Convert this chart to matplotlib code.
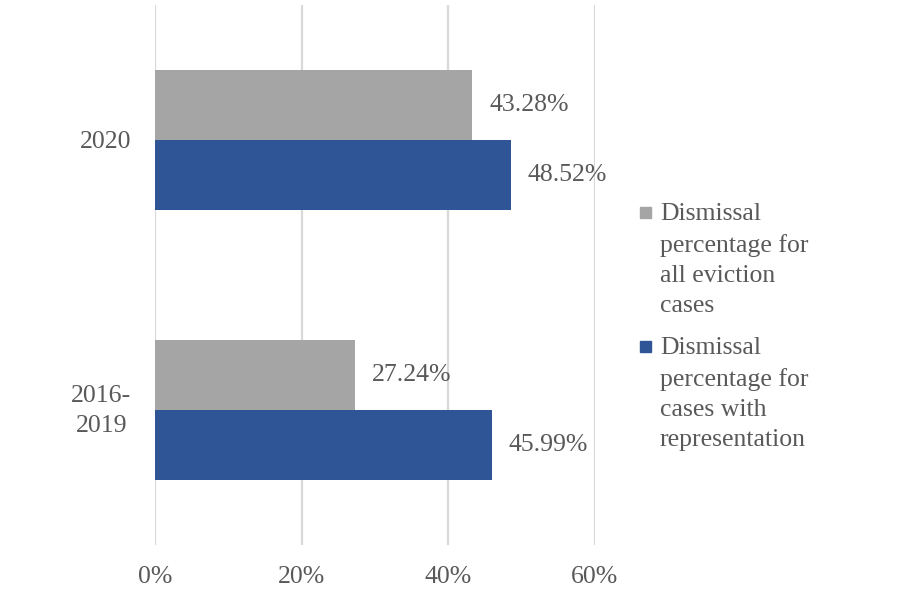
import matplotlib
matplotlib.use("Agg")
import matplotlib.pyplot as plt
import matplotlib.transforms as mtransforms
from matplotlib.patches import Rectangle
import numpy as np

categories = ["2016-\n2019", "2020"]
all_cases = [27.24, 43.28]
with_rep = [45.99, 48.52]
series_labels = ["Dismissal\npercentage for\nall eviction\ncases",
                 "Dismissal\npercentage for\ncases with\nrepresentation"]
colors = ["#A5A5A5", "#2F5597"]
xticks = [0, 20, 40, 60]

plt.rcParams['font.family'] = ['Liberation Serif', 'DejaVu Serif']
txt_color = "#595959"
fs = 18.5

fig = plt.figure(figsize=(9.04, 5.99), dpi=100)
ax = fig.add_axes([155/904, 1-545/599, 440/904, 540/599])

y = np.arange(len(categories))
h = 0.26
b1 = ax.barh(y + h/2, all_cases, height=h, color=colors[0], zorder=3)
b2 = ax.barh(y - h/2, with_rep, height=h, color=colors[1], zorder=3)
for bars, vals in ((b1, all_cases), (b2, with_rep)):
    ax.bar_label(bars, labels=[f"{v:.2f}%" for v in vals], padding=12,
                 fontsize=fs, color=txt_color)

ax.set_xlim(0, 60)
ax.set_ylim(-0.5, 1.5)
ax.set_xticks(xticks)
ax.set_xticklabels([f"{t}%" for t in xticks])
ax.set_yticks(y)
ax.set_yticklabels(categories, multialignment='center', linespacing=1.45)
ax.tick_params(axis='x', length=0, pad=15, labelsize=fs, labelcolor=txt_color)
ax.tick_params(axis='y', length=0, pad=17, labelsize=fs, labelcolor=txt_color)
ax.grid(axis='x', color="#D9D9D9", linewidth=1.6, zorder=0)
for s in ax.spines.values():
    s.set_visible(False)

# nudge multi-line category labels up slightly (Excel centres on cap height)
shift = mtransforms.ScaledTranslation(0, 5/100, fig.dpi_scale_trans)
for lbl in ax.get_yticklabels():
    if "\n" in lbl.get_text():
        lbl.set_transform(lbl.get_transform() + shift)

# legend (drawn in Excel style: square aligned with the first line)
first_baselines = [222, 356]
line_step = 30
for lab, col, yb in zip(series_labels, colors, first_baselines):
    nlines = lab.count("\n")
    fig.text(660/904, 1-(yb + nlines*line_step)/599, lab, fontsize=fs, color=txt_color,
             va='baseline', ha='left', linespacing=1.48)
    fig.patches.append(Rectangle((640/904, 1-(yb-4)/599), 11/904, 11/599,
                                 transform=fig.transFigure, color=col, figure=fig))

fig.savefig("out.png", dpi=100)
